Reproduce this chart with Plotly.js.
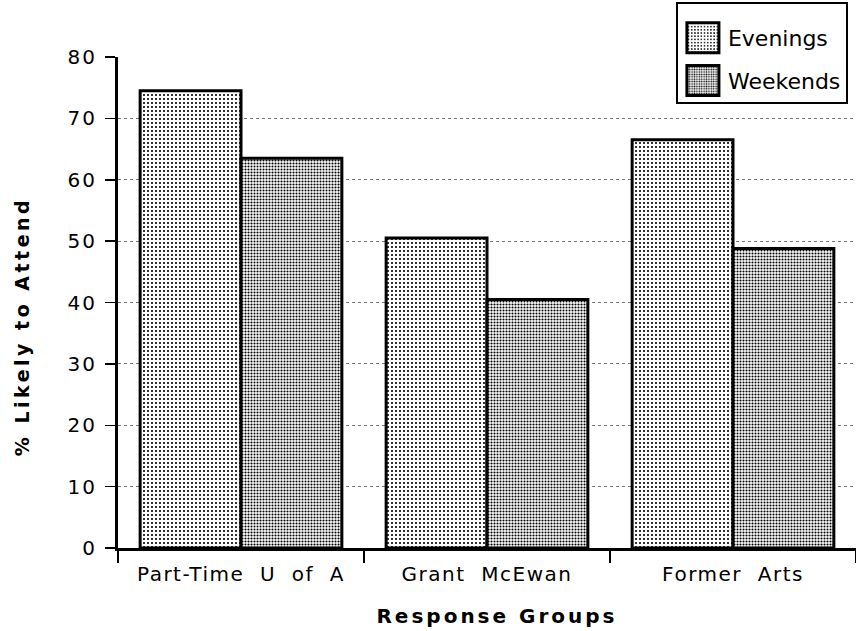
<!DOCTYPE html>
<html><head><meta charset="utf-8">
<script src="https://cdn.plot.ly/plotly-3.0.1.min.js"></script>
<style>html,body{margin:0;padding:0;background:#fff}</style>
</head><body><div id="chart" style="width:856px;height:631px"></div>
<script>
const categories = ['Part-Time\u00A0 U\u00A0 of\u00A0 A', 'Grant\u00A0 McEwan', 'Former\u00A0 Arts'];
const evenings = [74.5, 50.5, 66.5];
const weekends = [63.5, 40.5, 48.8];
const yTicks = [0, 10, 20, 30, 40, 50, 60, 70, 80];
const gridVals = [10, 20, 30, 40, 50, 60, 70];
const seriesNames = ['Evenings', 'Weekends'];

const FONT = 'DejaVu Sans, Liberation Sans, Arial, sans-serif';

const traces = [
  {
    type: 'bar', name: seriesNames[0], x: categories, y: evenings, legendgroup: 'a',
    marker: {color: '#ffffff', line: {color: '#000', width: 3},
      pattern: {shape: '.', fgcolor: '#000', bgcolor: '#fff', size: 4, solidity: 0.22}},
    hoverinfo: 'none'
  },
  {
    type: 'bar', name: seriesNames[1], x: categories, y: weekends, legendgroup: 'b',
    marker: {color: '#ffffff', line: {color: '#000', width: 3},
      pattern: {shape: '.', fgcolor: '#000', bgcolor: '#fff', size: 3, solidity: 0.4}},
    hoverinfo: 'none'
  }
];

const layout = {
  width: 856, height: 631,
  margin: {l: 118, r: 0, t: 57, b: 83, autoexpand: false},
  paper_bgcolor: '#fff', plot_bgcolor: '#fff',
  font: {family: FONT, size: 20, color: '#000'},
  barmode: 'group', bargap: 0.18, bargroupgap: 0,
  showlegend: true,
  legend: {
    x: 0.756, y: 1.112, xanchor: 'left', yanchor: 'top', xref: 'paper', yref: 'paper',
    bgcolor: '#fff', bordercolor: '#000', borderwidth: 2,
    font: {family: FONT, size: 22, color: '#000'},
    title: {text: '\u00A0', font: {family: FONT, size: 10, color: '#fff'}},
    itemwidth: 40, tracegroupgap: 11, traceorder: 'grouped'
  },
  xaxis: {
    range: [-0.5, 2.5], showline: true, linecolor: '#000', linewidth: 3,
    ticks: 'outside', tickson: 'boundaries', ticklen: 12, tickwidth: 2, tickcolor: '#000',
    showgrid: false, zeroline: false, fixedrange: true,
    tickfont: {family: FONT, size: 20, color: '#000'},
    ticklabelstandoff: 6,
    title: {text: 'Response Groups', font: {family: FONT, size: 20, color: '#000', weight: 'bold'}, standoff: 24}
  },
  yaxis: {
    range: [0, 80], tickvals: yTicks, ticktext: yTicks.map(String),
    showline: true, linecolor: '#000', linewidth: 3,
    ticks: 'outside', ticklen: 10, tickwidth: 1.5, tickcolor: '#000',
    showgrid: false, zeroline: false, fixedrange: true,
    tickfont: {family: FONT, size: 20, color: '#000'},
    ticklabelstandoff: 4,
    minor: {tickvals: gridVals, showgrid: true, gridcolor: '#777', griddash: 'dot', gridwidth: 1, ticks: ''},
    title: {text: '% Likely to Attend', font: {family: FONT, size: 19, color: '#000', weight: 'bold'}, standoff: 34}
  }
};

const gd = document.getElementById('chart');
function fix() {
  document.querySelectorAll('.xtick text').forEach(t => t.style.letterSpacing = '1.5px');
  document.querySelectorAll('.ytick text').forEach(t => t.style.letterSpacing = '2px');
  document.querySelectorAll('.g-xtitle text').forEach(t => t.style.letterSpacing = '3px');
  document.querySelectorAll('.g-ytitle text').forEach(t => t.style.letterSpacing = '3.5px');
  const xt = document.querySelector('.g-xtitle');
  if (xt) xt.setAttribute('transform', 'translate(10,0)');
  const yt = document.querySelector('.g-ytitle');
  if (yt) yt.setAttribute('transform', 'translate(-3,24)');
  document.querySelectorAll('.legend .legendpoints path').forEach(p => {
    p.setAttribute('d', 'M16,15H-16V-15H16Z');
  });
}
Plotly.newPlot(gd, traces, layout, {displayModeBar: false, staticPlot: true}).then(fix);
</script>
</body></html>
